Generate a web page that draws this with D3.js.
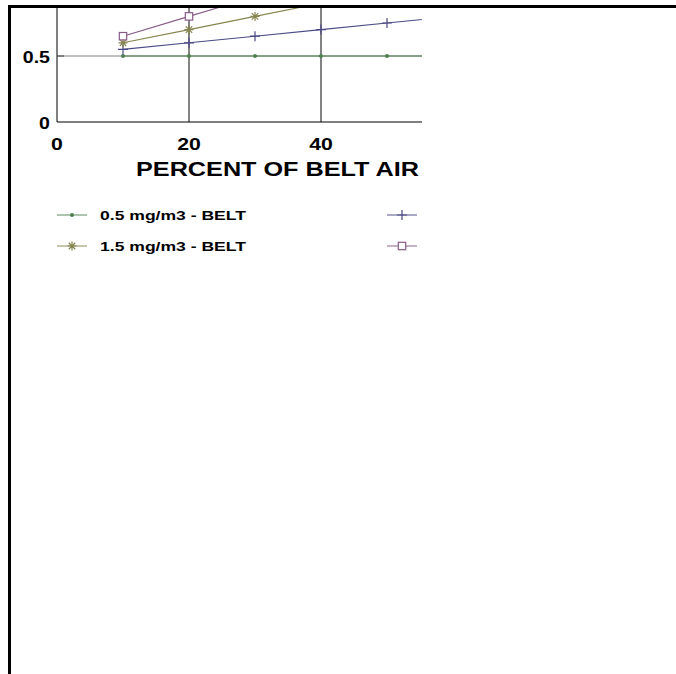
<!DOCTYPE html>
<html>
<head>
<meta charset="utf-8">
<script src="https://cdn.jsdelivr.net/npm/d3@7"></script>
<style>
  html, body { margin: 0; padding: 0; background: #fff; }
  svg { display: block; }
  text { font-family: "Liberation Sans", Arial, Helvetica, sans-serif; font-weight: bold; fill: #000; }
</style>
</head>
<body>
<svg id="chart" width="676" height="674"></svg>
<script>
// ---- data ----
const percentBelt = [10, 20, 30, 40, 50, 60];
const belt05 = [0.5, 0.5, 0.5, 0.5, 0.5, 0.5];
const belt10 = [0.55, 0.6, 0.65, 0.7, 0.75, 0.8];
const belt15 = [0.6, 0.7, 0.8, 0.9, 1.0, 1.1];
const belt20 = [0.65, 0.8, 0.95, 1.1, 1.25, 1.4];
const seriesNames = ["0.5 mg/m3 - BELT", "1.0 mg/m3 - BELT", "1.5 mg/m3 - BELT", "2.0 mg/m3 - BELT"];
const xTickValues = [0, 20, 40];
const yTickValues = [0, 0.5];
const xTitle = "PERCENT OF BELT AIR";

const colors = ["#4f8050", "#4a4a85", "#85854f", "#875a88"];
const markers = ["dot", "plus", "star", "square"];
const seriesValues = [belt05, belt10, belt15, belt20];

const svg = d3.select("#chart");
const x = d3.scaleLinear().domain([0, 60]).range([57, 453]);
const y = d3.scaleLinear().domain([0, 1]).range([122, -10]);

function stretch(sel, k) {
  sel.each(function () {
    const len = this.getComputedTextLength();
    d3.select(this).attr("textLength", len * k).attr("lengthAdjust", "spacingAndGlyphs");
  });
}

const defs = svg.append("defs");
defs.append("clipPath").attr("id", "pageClip")
  .append("rect").attr("x", 0).attr("y", 0).attr("width", 422).attr("height", 674);
defs.append("clipPath").attr("id", "plotClip")
  .append("rect").attr("x", 50).attr("y", 8).attr("width", 372).attr("height", 120);

const root = svg.append("g").attr("clip-path", "url(#pageClip)");
const plot = root.append("g").attr("clip-path", "url(#plotClip)");

// grid
plot.selectAll("line.vgrid").data([20, 40, 60]).enter().append("line")
  .attr("x1", d => x(d)).attr("x2", d => x(d)).attr("y1", y(1)).attr("y2", y(0))
  .attr("stroke", "#5a5a5a").attr("stroke-width", 1.5);
plot.selectAll("line.hgrid").data([0.5]).enter().append("line")
  .attr("x1", x(0)).attr("x2", x(60)).attr("y1", d => y(d)).attr("y2", d => y(d))
  .attr("stroke", "#808080").attr("stroke-width", 1);
// y tick inward
plot.append("line").attr("x1", x(0)).attr("x2", x(0) + 7).attr("y1", y(0.5)).attr("y2", y(0.5))
  .attr("stroke", "#555").attr("stroke-width", 1.2);

// axes lines
plot.append("line").attr("x1", x(0)).attr("x2", x(0)).attr("y1", y(1)).attr("y2", y(0))
  .attr("stroke", "#555").attr("stroke-width", 1.5);
plot.append("line").attr("x1", x(0)).attr("x2", x(60)).attr("y1", y(0)).attr("y2", y(0))
  .attr("stroke", "#000").attr("stroke-width", 1.2);

function drawMarker(g, type, color, cx, cy) {
  if (type === "dot") {
    g.append("circle").attr("cx", cx).attr("cy", cy).attr("r", 2).attr("fill", color);
  } else if (type === "plus") {
    g.append("path").attr("d", `M${cx - 5},${cy}H${cx + 5}M${cx},${cy - 5}V${cy + 5}`)
      .attr("stroke", color).attr("stroke-width", 1.2).attr("fill", "none");
  } else if (type === "star") {
    const r = 4.5, d = r * 0.72;
    g.append("path").attr("d",
      `M${cx - r},${cy}H${cx + r}M${cx},${cy - r}V${cy + r}M${cx - d},${cy - d}L${cx + d},${cy + d}M${cx - d},${cy + d}L${cx + d},${cy - d}`)
      .attr("stroke", color).attr("stroke-width", 1.2).attr("fill", "none");
  } else if (type === "square") {
    g.append("rect").attr("x", cx - 3.7).attr("y", cy - 3.7).attr("width", 7.4).attr("height", 7.4)
      .attr("stroke", color).attr("stroke-width", 1.2).attr("fill", "#fff");
  }
}

// series
const line = d3.line().x(d => x(d[0])).y(d => y(d[1]));
seriesValues.forEach((vals, i) => {
  const pts = percentBelt.map((p, j) => [p, vals[j]]);
  plot.append("path").datum(pts).attr("d", line)
    .attr("fill", "none").attr("stroke", colors[i]).attr("stroke-width", 1.1);
});
seriesValues.forEach((vals, i) => {
  const g = plot.append("g");
  percentBelt.forEach((p, j) => drawMarker(g, markers[i], colors[i], x(p), y(vals[j])));
});

// tick labels
root.selectAll("text.xt").data(xTickValues).enter().append("text")
  .attr("x", d => x(d)).attr("y", 150).attr("text-anchor", "middle")
  .style("font-size", "17px").text(d => d3.format("d")(d))
  .call(stretch, 1.25);
root.selectAll("text.yt").data(yTickValues).enter().append("text")
  .attr("x", 50).attr("y", d => y(d) + 6.5).attr("text-anchor", "end")
  .style("font-size", "17px").text(d => d === 0 ? "0" : d3.format(".1f")(d))
  .call(stretch, 1.15);

// x title
root.append("text").attr("x", 419).attr("y", 176).attr("text-anchor", "end")
  .style("font-size", "20.5px").text(xTitle).call(stretch, 1.23);

// legend
const legendPos = [[57, 215], [387, 215], [57, 246], [387, 246]];
seriesNames.forEach((name, i) => {
  const [lx, ly] = legendPos[i];
  const g = root.append("g");
  g.append("line").attr("x1", lx).attr("x2", lx + 30).attr("y1", ly).attr("y2", ly)
    .attr("stroke", colors[i]).attr("stroke-width", 1.1).attr("opacity", 0.85);
  drawMarker(g, markers[i], colors[i], lx + 15, ly);
  g.append("text").attr("x", lx + 43).attr("y", ly + 5).style("font-size", "13.5px")
    .text(name).call(stretch, 1.3);
});

// frame
svg.append("rect").attr("x", 8).attr("y", 5).attr("width", 668).attr("height", 3).attr("fill", "#000");
svg.append("rect").attr("x", 8).attr("y", 5).attr("width", 3).attr("height", 669).attr("fill", "#000");
</script>
</body>
</html>
